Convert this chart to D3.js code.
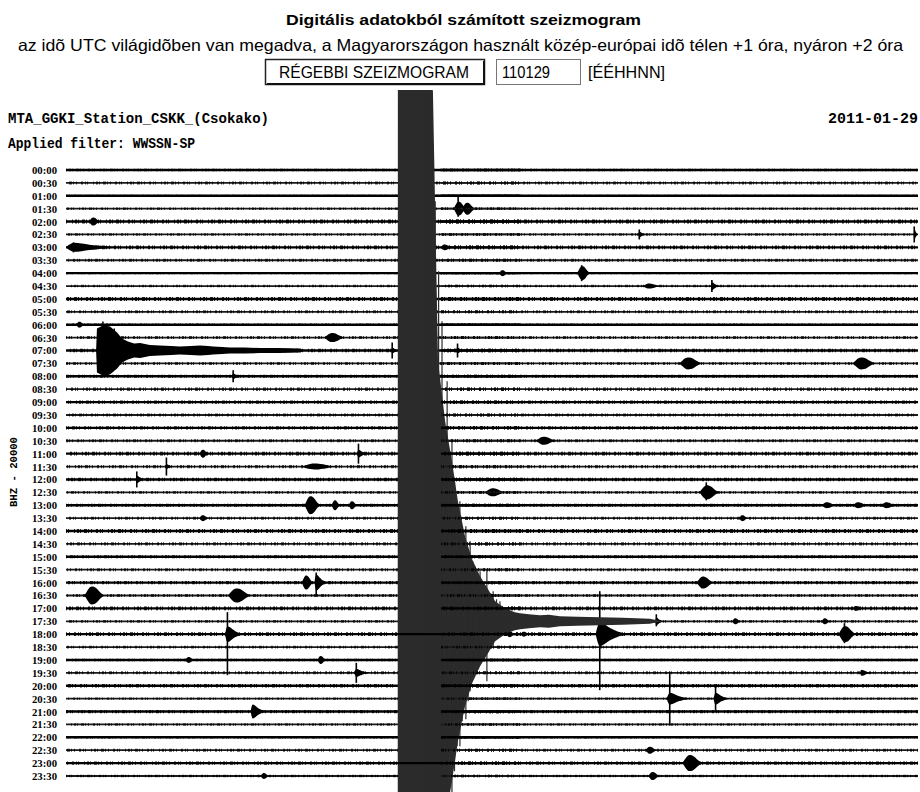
<!DOCTYPE html>
<html>
<head>
<meta charset="utf-8">
<script src="https://cdn.jsdelivr.net/npm/d3@7"></script>
<style>
  body { margin: 0; background: #fff; }
  svg { display: block; }
</style>
</head>
<body>
<svg id="chart" width="920" height="792"></svg>
<script>
// ---- data -------------------------------------------------------------
// one trace per half hour (UTC), each trace covers 30 minutes
const rowLabels = [
  "00:00","00:30","01:00","01:30","02:00","02:30","03:00","03:30",
  "04:00","04:30","05:00","05:30","06:00","06:30","07:00","07:30",
  "08:00","08:30","09:00","09:30","10:00","10:30","11:00","11:30",
  "12:00","12:30","13:00","13:30","14:00","14:30","15:00","15:30",
  "16:00","16:30","17:00","17:30","18:00","18:30","19:00","19:30",
  "20:00","20:30","21:00","21:30","22:00","22:30","23:00","23:30"
];

// background noise half-amplitude of each trace
const noiseLevel = [
  1.2, 1.5, 1.0, 1.2, 2.0, 1.2, 1.8, 1.4,
  1.2, 1.2, 2.0, 1.5, 1.3, 1.5, 1.8, 1.5,
  1.5, 1.8, 1.6, 1.6, 1.6, 1.6, 1.8, 1.6,
  1.7, 1.4, 1.6, 1.5, 2.0, 1.6, 1.5, 1.5,
  1.6, 1.6, 1.8, 1.4, 1.8, 1.4, 1.2, 1.5,
  1.8, 1.2, 1.6, 1.3, 1.2, 1.5, 1.6, 1.2
];

// local / regional events: row, onset minute, amplitude, duration (min),
// envelope type, optional peak excursions up / down
const events = [
  { row: "01:30", t: 13.65, a: 7, d: 0.45, shape: "spindle", up: 12, down: 8 },
  { row: "01:30", t: 13.95, a: 6, d: 0.45, shape: "spindle" },
  { row: "02:00", t: 0.8,  a: 4, d: 0.4,  shape: "spindle" },
  { row: "02:30", t: 20.15, a: 3, d: 0.3, shape: "impulse", up: 5, down: 5 },
  { row: "02:30", t: 29.85, a: 6, d: 0.15, shape: "impulse", up: 8, down: 8 },
  { row: "03:00", t: 0.0,  a: 4.5, d: 2.2, shape: "impulse", up: 5, down: 5 },
  { row: "03:00", t: 13.25, a: 3, d: 0.5, shape: "impulse" },
  { row: "04:00", t: 18.0, a: 7, d: 0.45, shape: "spindle", up: 8, down: 8 },
  { row: "04:00", t: 15.25, a: 3, d: 0.3, shape: "spindle" },
  { row: "04:30", t: 22.7, a: 4, d: 0.35, shape: "impulse", up: 6, down: 6 },
  { row: "04:30", t: 20.3, a: 2.5, d: 0.6, shape: "spindle" },
  { row: "06:00", t: 0.35, a: 3, d: 0.3, shape: "spindle" },
  { row: "06:30", t: 9.1,  a: 4.5, d: 0.7, shape: "spindle" },
  { row: "07:00", t: 11.45, a: 3, d: 0.3, shape: "impulse", up: 8, down: 8 },
  { row: "07:00", t: 13.75, a: 3, d: 0.3, shape: "impulse", up: 7, down: 7 },
  { row: "07:30", t: 21.6, a: 6, d: 0.8, shape: "spindle" },
  { row: "07:30", t: 27.7, a: 6, d: 0.8, shape: "spindle" },
  { row: "08:00", t: 5.85, a: 3, d: 0.3, shape: "impulse", up: 6, down: 6 },
  { row: "10:30", t: 16.55, a: 4, d: 0.7, shape: "spindle" },
  { row: "11:00", t: 4.7,  a: 4, d: 0.3, shape: "spindle" },
  { row: "11:00", t: 10.25, a: 4, d: 0.4, shape: "impulse", up: 10, down: 10 },
  { row: "11:30", t: 3.5,  a: 2.5, d: 0.3, shape: "impulse", up: 9, down: 9 },
  { row: "11:30", t: 8.3,  a: 3, d: 1.2, shape: "spindle" },
  { row: "12:00", t: 2.45, a: 4, d: 0.35, shape: "impulse", up: 8, down: 8 },
  { row: "12:30", t: 14.75, a: 4, d: 0.7, shape: "spindle" },
  { row: "12:30", t: 22.3, a: 7, d: 0.7, shape: "spindle", up: 10, down: 8 },
  { row: "13:00", t: 8.4,  a: 9, d: 0.55, shape: "spindle" },
  { row: "13:00", t: 9.35, a: 5, d: 0.3, shape: "spindle" },
  { row: "13:00", t: 9.95, a: 4, d: 0.3, shape: "spindle" },
  { row: "13:00", t: 26.6, a: 3, d: 0.5, shape: "spindle" },
  { row: "13:00", t: 27.7, a: 3, d: 0.5, shape: "spindle" },
  { row: "13:00", t: 28.7, a: 3, d: 0.5, shape: "spindle" },
  { row: "13:30", t: 4.7,  a: 3, d: 0.3, shape: "spindle" },
  { row: "13:30", t: 23.7, a: 3, d: 0.3, shape: "spindle" },
  { row: "16:00", t: 8.3,  a: 7, d: 0.4, shape: "spindle" },
  { row: "16:00", t: 8.75, a: 8, d: 0.5, shape: "impulse", up: 10, down: 14 },
  { row: "16:00", t: 22.2, a: 6, d: 0.6, shape: "spindle" },
  { row: "16:30", t: 0.65, a: 9, d: 0.7, shape: "spindle" },
  { row: "16:30", t: 5.7,  a: 7, d: 0.8, shape: "spindle" },
  { row: "17:00", t: 27.7, a: 2.5, d: 0.3, shape: "spindle" },
  { row: "17:30", t: 20.75, a: 4, d: 0.3, shape: "impulse", up: 7, down: 5 },
  { row: "17:30", t: 23.45, a: 3, d: 0.3, shape: "spindle" },
  { row: "17:30", t: 26.6, a: 3, d: 0.3, shape: "spindle" },
  { row: "18:00", t: 5.6,  a: 8, d: 0.7, shape: "impulse", up: 22, down: 41 },
  { row: "18:00", t: 18.65, a: 12, d: 1.2, shape: "impulse", up: 43, down: 56 },
  { row: "18:00", t: 27.2, a: 8, d: 0.6, shape: "spindle", up: 11, down: 9 },
  { row: "18:00", t: 15.5, a: 3, d: 0.3, shape: "spindle" },
  { row: "18:00", t: 16.0, a: 2.5, d: 0.3, shape: "spindle" },
  { row: "19:00", t: 4.2,  a: 3, d: 0.3, shape: "spindle" },
  { row: "19:00", t: 8.85, a: 4, d: 0.3, shape: "spindle" },
  { row: "19:30", t: 10.15, a: 4, d: 0.6, shape: "impulse", up: 10, down: 10 },
  { row: "19:30", t: 27.95, a: 3, d: 0.5, shape: "impulse" },
  { row: "20:30", t: 21.15, a: 6, d: 0.9, shape: "impulse", up: 27, down: 27 },
  { row: "20:30", t: 22.8, a: 6, d: 0.6, shape: "impulse", up: 12, down: 12 },
  { row: "21:00", t: 6.5,  a: 7, d: 0.6, shape: "impulse" },
  { row: "22:30", t: 20.4, a: 3.5, d: 0.4, shape: "spindle" },
  { row: "23:00", t: 21.7, a: 8, d: 0.7, shape: "spindle" },
  { row: "23:30", t: 6.85, a: 3, d: 0.3, shape: "spindle" },
  { row: "23:30", t: 20.5, a: 4, d: 0.4, shape: "spindle" }
];

// envelope templates (relative amplitude along the event duration)
const shapes = {
  spindle: [0, 0.45, 0.85, 1, 0.95, 0.75, 0.45, 0.2, 0],
  impulse: [0, 1, 0.85, 0.6, 0.4, 0.25, 0.14, 0.06, 0]
};

// regional quake on the 07:00 trace: [minute, amplitude]
const quake0700 = [
  [1.06, 0], [1.09, 22], [1.30, 25], [1.55, 24], [1.80, 18], [1.97, 12],
  [2.18, 9], [2.40, 7], [2.61, 7.5], [2.95, 5.5], [3.31, 5], [3.70, 4.5],
  [4.01, 4], [4.40, 4.5], [4.72, 5], [5.0, 4.5], [5.18, 4], [5.5, 3.5],
  [5.77, 3], [6.3, 3], [6.83, 2.5], [7.5, 2.5], [8.24, 2], [8.4, 0]
];
const quake0700Peaks = [
  [1.20, 22, 20], [1.30, 29, 24], [1.40, 26, 22], [1.48, 24, 26],
  [1.62, 20, 20], [1.70, 22, 18], [1.83, 14, 16], [2.0, 10, 11]
];

// teleseismic quake on the 17:30 trace (clipped far beyond the page)
const quake1730 = [
  [11.68, 0], [11.69, 1000], [12.57, 1000], [12.62, 560], [12.92, 530],
  [13.10, 260], [13.35, 200], [13.59, 160], [13.80, 120], [14.05, 85],
  [14.30, 62], [14.58, 45], [14.86, 32], [15.11, 20], [15.46, 13],
  [15.8, 9], [15.99, 8], [16.3, 7], [16.69, 6], [17.0, 6.5], [17.39, 5],
  [18.0, 4.5], [18.80, 4], [19.6, 3.5], [20.56, 2.5], [20.99, 0]
];
const quake1730Peaks = [
  [12.64, 600, 200], [12.75, 600, 200], [12.87, 600, 200],
  [13.0, 420, 200], [13.12, 350, 200],
  [13.24, 300, 200], [13.42, 240, 200], [13.59, 180, 200],
  [13.68, 140, 150], [13.77, 110, 125], [13.87, 120, 125], [13.95, 90, 100],
  [14.08, 95, 98], [14.16, 70, 80], [14.23, 80, 70], [14.32, 60, 55],
  [14.40, 55, 50], [14.50, 45, 45], [14.58, 50, 40], [14.70, 38, 35],
  [14.82, 52, 60], [14.95, 28, 26], [15.04, 30, 25], [15.16, 22, 18],
  [15.28, 20, 15], [15.45, 14, 12], [15.6, 12, 10]
];

// ---- drawing ----------------------------------------------------------
const svg = d3.select("#chart");
const W = 920, H = 792;

const x = d3.scaleLinear().domain([0, 30]).range([66, 918]);
const y = d3.scalePoint().domain(rowLabels).range([170, 776]);
const amp = d3.scaleLinear().domain([0, 1]).range([0, 1]);

// header
const sans = "'Liberation Sans', Arial, sans-serif";
svg.append("text")
  .attr("x", 463.5).attr("y", 25)
  .attr("text-anchor", "middle")
  .attr("font-family", sans).attr("font-weight", "bold").attr("font-size", 15.5)
  .attr("textLength", 355).attr("lengthAdjust", "spacingAndGlyphs")
  .text("Digitális adatokból számított szeizmogram");
svg.append("text")
  .attr("x", 460.5).attr("y", 51)
  .attr("text-anchor", "middle")
  .attr("font-family", sans).attr("font-size", 16.5)
  .attr("textLength", 885).attr("lengthAdjust", "spacingAndGlyphs")
  .text("az idõ UTC világidõben van megadva, a Magyarországon használt közép-európai idõ télen +1 óra, nyáron +2 óra");

// button
const btn = svg.append("g");
btn.append("rect").attr("x", 265.5).attr("y", 59.5).attr("width", 219).attr("height", 25)
  .attr("fill", "#fff").attr("stroke", "#222").attr("stroke-width", 1.5);
btn.append("path").attr("d", "M267,84 H484 V61").attr("fill", "none")
  .attr("stroke", "#111").attr("stroke-width", 2);
btn.append("text").attr("x", 374).attr("y", 78).attr("text-anchor", "middle")
  .attr("font-family", sans).attr("font-size", 16)
  .attr("textLength", 190).attr("lengthAdjust", "spacingAndGlyphs")
  .text("RÉGEBBI SZEIZMOGRAM");
svg.append("rect").attr("x", 496.5).attr("y", 59.5).attr("width", 84).attr("height", 25)
  .attr("fill", "#fff").attr("stroke", "#777").attr("stroke-width", 1);
svg.append("text").attr("x", 502).attr("y", 78)
  .attr("font-family", sans).attr("font-size", 16)
  .attr("textLength", 48).attr("lengthAdjust", "spacingAndGlyphs")
  .text("110129");
svg.append("text").attr("x", 588).attr("y", 78)
  .attr("font-family", sans).attr("font-size", 16)
  .attr("textLength", 77).attr("lengthAdjust", "spacingAndGlyphs")
  .text("[ÉÉHHNN]");

// station / filter / date
const mono = "'Liberation Mono', 'DejaVu Sans Mono', monospace";
const serif = "'Liberation Serif', 'DejaVu Serif', serif";
svg.append("text").attr("x", 8).attr("y", 123)
  .attr("font-family", mono).attr("font-weight", "bold").attr("font-size", 14)
  .attr("textLength", 261).attr("lengthAdjust", "spacingAndGlyphs")
  .text("MTA_GGKI_Station_CSKK_(Csokako)");
svg.append("text").attr("x", 8).attr("y", 148)
  .attr("font-family", mono).attr("font-weight", "bold").attr("font-size", 14)
  .attr("textLength", 187).attr("lengthAdjust", "spacingAndGlyphs")
  .text("Applied filter: WWSSN-SP");
svg.append("text").attr("x", 918).attr("y", 123)
  .attr("text-anchor", "end")
  .attr("font-family", mono).attr("font-weight", "bold").attr("font-size", 14)
  .attr("textLength", 90).attr("lengthAdjust", "spacingAndGlyphs")
  .text("2011-01-29");
svg.append("text")
  .attr("transform", "translate(17,472) rotate(-90)")
  .attr("text-anchor", "middle")
  .attr("font-family", mono).attr("font-weight", "bold").attr("font-size", 11)
  .attr("textLength", 70).attr("lengthAdjust", "spacingAndGlyphs")
  .text("BHZ - 20000");

// time labels
const axis = svg.append("g")
  .attr("transform", "translate(60,0)")
  .call(d3.axisLeft(y).tickSize(0).tickPadding(3));
axis.select(".domain").remove();
axis.selectAll("text")
  .attr("font-family", serif).attr("font-weight", "bold").attr("font-size", 10.5)
  .attr("textLength", 25).attr("lengthAdjust", "spacingAndGlyphs")
  .attr("dy", "0.33em")
  .attr("fill", "#000");

// traces: baseline plus a grainy noise band
function drawTrace(g, lab, i, x0, x1) {
  const yy = y(lab);
  const odd = i % 2 === 1;
  g.append("line")
    .attr("x1", x(x0)).attr("x2", x(x1)).attr("y1", yy).attr("y2", yy)
    .attr("stroke", odd ? "#1a1a1a" : "#000")
    .attr("stroke-width", odd ? 1.8 : 2.4);
  g.append("line")
    .attr("x1", x(0)).attr("x2", x(30)).attr("y1", yy).attr("y2", yy)
    .attr("stroke", "#000").attr("stroke-opacity", odd ? 0.7 : 0.85)
    .attr("stroke-width", amp(noiseLevel[i]) * 2)
    .attr("stroke-dasharray", "1 2 2 1 1 3 3 1 1 2 1 4 2 2 1 1 1 5")
    .attr("stroke-dashoffset", i * 7)
    .attr("clip-path", x0 > 0 ? "url(#coda)" : null);
}
const traces = svg.append("g");
rowLabels.forEach((lab, i) => drawTrace(traces, lab, i, 0, 30));

// events
const evG = svg.append("g");
const band = d3.area()
  .x(d => x(d.t))
  .y0(d => d.y + amp(d.a))
  .y1(d => d.y - amp(d.a))
  .curve(d3.curveMonotoneX);

events.forEach(e => {
  const yy = y(e.row);
  const tpl = shapes[e.shape];
  const pts = tpl.map((s, k) => ({ t: e.t + e.d * k / (tpl.length - 1), a: e.a * s, y: yy }));
  evG.append("path").attr("d", band(pts)).attr("fill", "#000");
  if (e.up || e.down) {
    const px = x(e.t + e.d * (e.shape === "impulse" ? 0.12 : 0.35));
    evG.append("line")
      .attr("x1", px).attr("x2", px)
      .attr("y1", yy - amp(e.up || 0)).attr("y2", yy + amp(e.down || 0))
      .attr("stroke", "#000").attr("stroke-width", 1.6);
  }
});

// 07:00 regional quake
const y07 = y("07:00");
const bandLin = d3.area()
  .x(d => x(d[0]))
  .y0(d => d.y + amp(d[1]))
  .y1(d => d.y - amp(d[1]));
evG.append("path")
  .attr("d", bandLin(quake0700.map(d => Object.assign([d[0], d[1]], { y: y07 }))))
  .attr("fill", "#000");
evG.selectAll(".p07").data(quake0700Peaks).join("line")
  .attr("x1", d => x(d[0])).attr("x2", d => x(d[0]))
  .attr("y1", d => y07 - amp(d[1])).attr("y2", d => y07 + amp(d[2]))
  .attr("stroke", "#000").attr("stroke-width", 1.5);

// 17:30 teleseism, clipped to the record area
const defs = svg.append("defs");
defs.append("clipPath").attr("id", "rec")
  .append("rect").attr("x", 0).attr("y", 90).attr("width", W).attr("height", H - 90);
defs.append("clipPath").attr("id", "coda")
  .append("rect").attr("x", x(13.2)).attr("y", 90).attr("width", x(16) - x(13.2)).attr("height", H - 90);
const y1730 = y("17:30");
const tele = svg.append("g").attr("clip-path", "url(#rec)");
tele.append("path")
  .attr("d", bandLin(quake1730.map(d => Object.assign([d[0], d[1]], { y: y1730 }))))
  .attr("fill", "#2b2b2b");
tele.selectAll("line").data(quake1730Peaks).join("line")
  .attr("x1", d => x(d[0])).attr("x2", d => x(d[0]))
  .attr("y1", d => y1730 - amp(d[1])).attr("y2", d => y1730 + amp(d[2]))
  .attr("stroke", "#2b2b2b").attr("stroke-width", 1.2);

// traces stay visible through the thinner part of the coda
const codaG = svg.append("g").attr("clip-path", "url(#coda)");
rowLabels.forEach((lab, i) => {
  if (lab !== "17:30") drawTrace(codaG, lab, i, 13.2, 16);
});

// the 18:00 and 23:00 traces are plotted over the clipped record
const over = svg.append("g").attr("clip-path", "url(#rec)");
["18:00", "23:00"].forEach(lab => {
  const yy = y(lab);
  over.append("line")
    .attr("x1", x(11.69)).attr("x2", x(13.3)).attr("y1", yy).attr("y2", yy)
    .attr("stroke", "#000").attr("stroke-width", 2.4);
});
</script>
</body>
</html>
